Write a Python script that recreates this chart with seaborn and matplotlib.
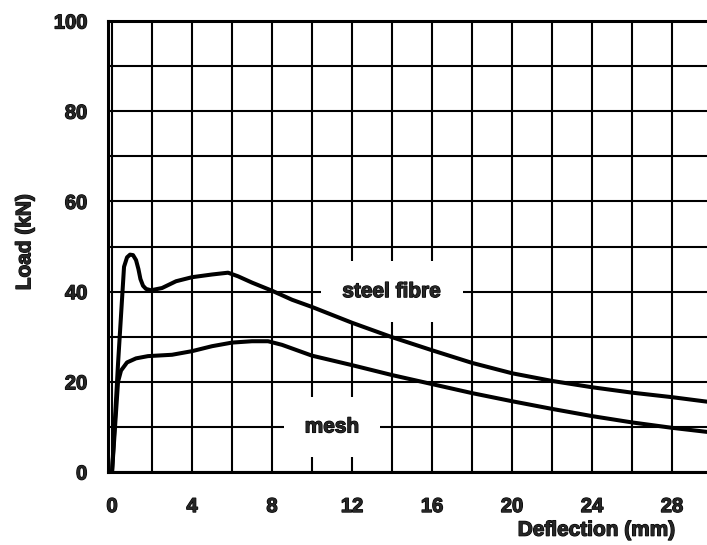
import pandas as pd
import matplotlib.pyplot as plt
import matplotlib.patheffects as pe
import seaborn as sns

# load-deflection readings (deflection in mm, load in kN)
steel_defl = [0, 0.3, 0.6, 0.75, 0.9, 1.05, 1.2, 1.32, 1.42, 1.55, 1.7, 1.95, 2.5, 3.2, 4.0, 5.0, 5.8,
              6.3, 7.0, 8.0, 9.0, 10.0, 12.0, 14.0, 16.0, 18.0, 20.0, 22.0, 24.0, 26.0, 28.0, 29.75]
steel_load = [0, 24.0, 45.5, 47.6, 48.2, 48.1, 47.0, 45.0, 42.8, 41.3, 40.6, 40.3, 40.8, 42.3, 43.2, 43.8, 44.2,
              43.4, 42.0, 40.2, 38.2, 36.6, 33.1, 29.9, 27.0, 24.2, 21.9, 20.2, 18.8, 17.6, 16.6, 15.6]

mesh_defl = [0, 0.3, 0.45, 0.75, 1.2, 1.8, 3.0, 4.0, 5.0, 6.0, 7.0, 7.8, 8.5, 9.0, 10.0,
             12.0, 14.0, 16.0, 18.0, 20.0, 22.0, 24.0, 26.0, 28.0, 29.75]
mesh_load = [0, 20.0, 22.5, 24.3, 25.2, 25.7, 26.0, 26.8, 27.9, 28.7, 29.0, 29.0, 28.2, 27.4, 25.8,
             23.7, 21.5, 19.5, 17.5, 15.7, 14.0, 12.4, 11.0, 9.8, 8.9]

x_ticks = [0, 4, 8, 12, 16, 20, 24, 28]
y_ticks = [0, 20, 40, 60, 80, 100]

df = pd.concat([
    pd.DataFrame({"defl": steel_defl, "load": steel_load, "series": "steel fibre"}),
    pd.DataFrame({"defl": mesh_defl, "load": mesh_load, "series": "mesh"}),
])

sns.set_style("white")
plt.rcParams["font.family"] = ["Liberation Sans", "DejaVu Sans"]
plt.rcParams["font.weight"] = "bold"

fig = plt.figure(figsize=(7.07, 5.45), dpi=100)
ax = fig.add_axes([0.1528, 0.1339, 0.8472, 0.8275])

sns.lineplot(data=df, x="defl", y="load", hue="series", units="series", estimator=None,
             sort=False, palette=["black", "black"], linewidth=2.9, legend=False, ax=ax, zorder=2)

ax.set_xlim(-0.2, 29.75)
ax.set_ylim(0, 100)
ax.set_xticks(x_ticks)
ax.set_xticks(range(2, 30, 4), minor=True)
ax.set_yticks(y_ticks)
ax.set_yticks(range(10, 100, 20), minor=True)
ax.set_axisbelow(True)
ax.grid(True, which="both", color="black", linewidth=1.5)
ax.tick_params(which="both", length=0, labelsize=14.5)
ax.tick_params(axis="x", pad=18)
ax.tick_params(axis="y", pad=15)

for side in ["left", "top", "bottom"]:
    ax.spines[side].set_color("black")
    ax.spines[side].set_linewidth(2.2)
ax.spines["right"].set_visible(False)

ax.set_xlabel("Deflection (mm)", fontsize=15, fontweight="bold", va="center")
ax.xaxis.set_label_coords(0.816, -0.129)
ax.set_ylabel("Load (kN)", fontsize=15, fontweight="bold", va="center")
ax.yaxis.set_label_coords(-0.139, 0.51)

box = dict(boxstyle="square,pad=1.0", fc="white", ec="none")
ax.text(14, 40, "steel fibre", fontsize=15, fontweight="bold", ha="center", va="center",
        bbox=box, zorder=1)
ax.text(11, 10, "mesh", fontsize=15, fontweight="bold", ha="center", va="center",
        bbox=box, zorder=1)

# heavier strokes, like the scanned original
heavy = [pe.withStroke(linewidth=0.9, foreground="black")]
for t in ax.texts + ax.get_xticklabels() + ax.get_yticklabels() + [ax.xaxis.label, ax.yaxis.label]:
    t.set_path_effects(heavy)

fig.savefig("out.png", dpi=100)
